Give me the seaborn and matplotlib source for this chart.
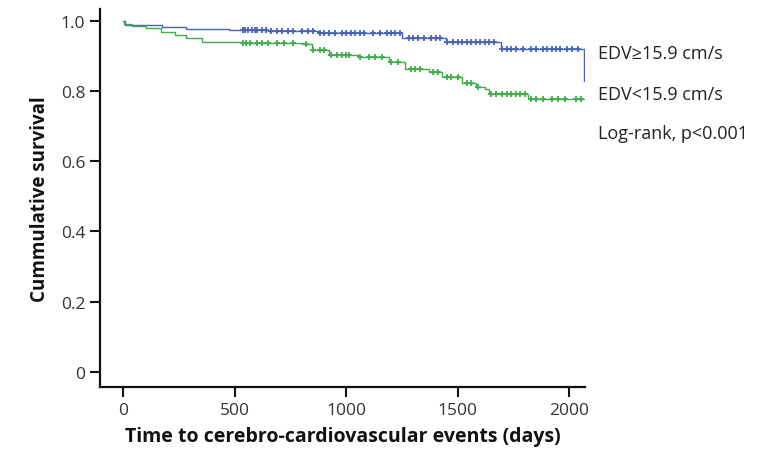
import numpy as np
import pandas as pd
import matplotlib
matplotlib.use('Agg')
import matplotlib.pyplot as plt
import seaborn as sns

# Event times (days) and survival after each step
blue_times = [0, 8, 175, 280, 475, 650, 875, 1250, 1445, 1695, 2065]
blue_surv = [1.0, 0.988, 0.981, 0.976, 0.972, 0.969, 0.965, 0.951, 0.940, 0.918, 0.827]

green_times = [0, 5, 40, 100, 170, 230, 280, 353, 530, 800, 845, 920, 1050,
               1190, 1265, 1370, 1427, 1517, 1580, 1623, 1640, 1815, 2065]
green_surv = [1.0, 0.99, 0.985, 0.978, 0.968, 0.958, 0.949, 0.94, 0.937, 0.932,
              0.915, 0.903, 0.895, 0.882, 0.863, 0.854, 0.84, 0.821, 0.812,
              0.806, 0.792, 0.776, 0.776]

# Censored observations
blue_censor = [535, 545, 560, 575, 590, 600, 620, 640, 660, 690, 710, 740, 760,
               800, 830, 850, 880, 900, 920, 950, 980, 1000, 1020, 1040, 1060,
               1080, 1120, 1150, 1180, 1200, 1220, 1240, 1280, 1300, 1320, 1350,
               1380, 1400, 1420, 1450, 1480, 1500, 1520, 1540, 1560, 1580, 1600,
               1620, 1640, 1660, 1700, 1720, 1740, 1760, 1790, 1830, 1850, 1880,
               1900, 1920, 1940, 1960, 1990, 2010, 2040]
green_censor = [535, 550, 570, 600, 620, 650, 690, 720, 760, 820, 850, 880, 900,
                930, 960, 980, 1000, 1010, 1060, 1100, 1130, 1160, 1200, 1230,
                1290, 1310, 1330, 1390, 1410, 1450, 1470, 1500, 1540, 1560, 1590,
                1650, 1670, 1700, 1720, 1740, 1760, 1780, 1800, 1830, 1850, 1880,
                1920, 1950, 1980, 2030, 2050]

labels = ['EDV\u226515.9 cm/s', 'EDV<15.9 cm/s', 'Log-rank, p<0.001']
blue = '#4a63b5'
green = '#3fae4a'

sns.set_style('ticks')
plt.rcParams['font.family'] = ['Open Sans', 'DejaVu Sans']

fig = plt.figure(figsize=(7.81, 4.56), dpi=100)
ax = fig.add_axes([0.128, 0.149, 0.621, 0.83])


def surv_at(times, surv, t):
    idx = np.searchsorted(times, t, side='right') - 1
    return np.array(surv)[idx]


for times, surv, cens, col in [(blue_times, blue_surv, blue_censor, blue),
                               (green_times, green_surv, green_censor, green)]:
    d = pd.DataFrame({'t': times, 's': surv})
    sns.lineplot(data=d, x='t', y='s', drawstyle='steps-post', color=col,
                 linewidth=1.0, ax=ax, errorbar=None)
    c = pd.DataFrame({'t': cens, 's': surv_at(times, surv, cens)})
    sns.scatterplot(data=c, x='t', y='s', marker='+', s=22, color=col,
                    linewidth=1.3, ax=ax, zorder=3)

ax.set_xlim(-105, 2070)
ax.set_ylim(-0.043, 1.034)
ax.set_xticks([0, 500, 1000, 1500, 2000])
ax.set_yticks([0, 0.2, 0.4, 0.6, 0.8, 1.0])
ax.set_yticklabels(['0', '0.2', '0.4', '0.6', '0.8', '1.0'])
ax.tick_params(axis='both', length=7, width=1.5, labelsize=12.5,
               colors='#111111', labelcolor='#333333')
for sp in ['left', 'bottom']:
    ax.spines[sp].set_linewidth(1.6)
    ax.spines[sp].set_color('#111111')
sns.despine(ax=ax)

ax.set_xlabel('Time to cerebro-cardiovascular events (days)', fontsize=14,
              fontweight='bold', labelpad=6, color='#111111')
ax.set_ylabel('Cummulative survival', fontsize=13.5, fontweight='bold',
              labelpad=8, color='#111111')

fig.text(0.766, 0.882, labels[0], fontsize=13, color='#222222', va='center')
fig.text(0.766, 0.792, labels[1], fontsize=13, color='#222222', va='center')
fig.text(0.766, 0.706, labels[2], fontsize=13, color='#222222', va='center')

fig.savefig('out.png', dpi=100)
